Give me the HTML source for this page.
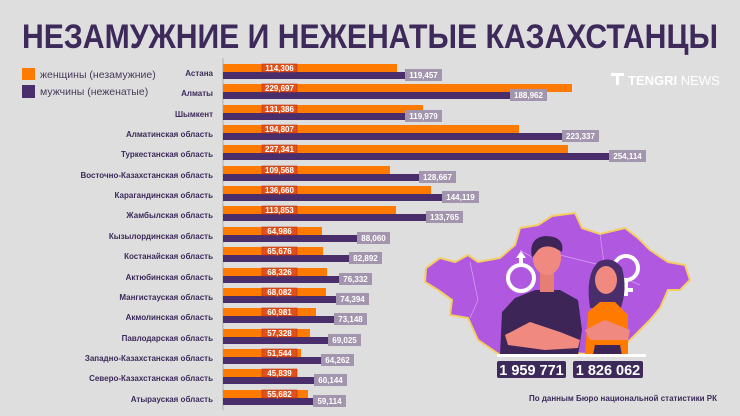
<!DOCTYPE html>
<html><head><meta charset="utf-8"><style>
html,body{margin:0;padding:0;background:#dedede;}
svg{display:block;font-family:"Liberation Sans",sans-serif;}
.l{font-size:8px;font-weight:bold;fill:#3d2a5a;text-anchor:end}
.o{fill:#ff7a00}
.p{fill:#4a2d6b}
.ob{fill:#e0521a;stroke:#c03010;stroke-width:.6}
.pb{fill:#a295ad}
.v{font-size:8px;font-weight:bold;fill:#fff;text-anchor:middle}
</style></head><body>
<svg width="740" height="416" viewBox="0 0 740 416">
<rect width="740" height="416" fill="#dedede"/>
<text x="22" y="48" font-size="34" font-weight="bold" fill="#3d2a5a" textLength="696" lengthAdjust="spacingAndGlyphs">НЕЗАМУЖНИЕ И НЕЖЕНАТЫЕ КАЗАХСТАНЦЫ</text>
<rect x="22" y="68" width="13" height="12" fill="#ff7a00"/>
<rect x="22" y="85" width="13" height="13" fill="#4a2d6b"/>
<text x="40" y="78" font-size="10.5" fill="#4a3a5a">женщины (незамужние)</text>
<text x="40" y="95" font-size="10.5" fill="#4a3a5a">мужчины (неженатые)</text>
<g fill="#fff"><rect x="611" y="73" width="13" height="3"/><rect x="616" y="73" width="3" height="12"/></g>
<text x="628" y="85" font-size="13" fill="#fff"><tspan font-weight="bold">TENGRI</tspan> NEWS</text>
<line x1="223" y1="58" x2="223" y2="410" stroke="#bdbdbd" stroke-width="1.5"/>

<g transform="translate(0,73)"><text class="l" x="213" y="3">Астана</text><rect class="o" x="223" y="-9" width="174" height="8"/><rect class="p" x="223" y="-1" width="182" height="7"/><rect class="ob" x="262" y="-9" width="35" height="8"/><text class="v" x="279.5" y="-2">114,306</text><rect class="pb" x="405" y="-4" width="37" height="12"/><text class="v" x="423.5" y="5">119,457</text></g>
<g transform="translate(0,93)"><text class="l" x="213" y="3">Алматы</text><rect class="o" x="223" y="-9" width="349" height="8"/><rect class="p" x="223" y="-1" width="287" height="7"/><rect class="ob" x="262" y="-9" width="35" height="8"/><text class="v" x="279.5" y="-2">229,697</text><rect class="pb" x="510" y="-4" width="37" height="12"/><text class="v" x="528.5" y="5">188,962</text></g>
<g transform="translate(0,114)"><text class="l" x="213" y="3">Шымкент</text><rect class="o" x="223" y="-9" width="200" height="8"/><rect class="p" x="223" y="-1" width="182" height="7"/><rect class="ob" x="262" y="-9" width="35" height="8"/><text class="v" x="279.5" y="-2">131,386</text><rect class="pb" x="405" y="-4" width="37" height="12"/><text class="v" x="423.5" y="5">119,979</text></g>
<g transform="translate(0,134)"><text class="l" x="213" y="3">Алматинская область</text><rect class="o" x="223" y="-9" width="296" height="8"/><rect class="p" x="223" y="-1" width="339" height="7"/><rect class="ob" x="262" y="-9" width="35" height="8"/><text class="v" x="279.5" y="-2">194,807</text><rect class="pb" x="562" y="-4" width="37" height="12"/><text class="v" x="580.5" y="5">223,337</text></g>
<g transform="translate(0,154)"><text class="l" x="213" y="3">Туркестанская область</text><rect class="o" x="223" y="-9" width="345" height="8"/><rect class="p" x="223" y="-1" width="386" height="7"/><rect class="ob" x="262" y="-9" width="35" height="8"/><text class="v" x="279.5" y="-2">227,341</text><rect class="pb" x="609" y="-4" width="37" height="12"/><text class="v" x="627.5" y="5">254,114</text></g>
<g transform="translate(0,175)"><text class="l" x="213" y="3">Восточно-Казахстанская область</text><rect class="o" x="223" y="-9" width="167" height="8"/><rect class="p" x="223" y="-1" width="196" height="7"/><rect class="ob" x="262" y="-9" width="35" height="8"/><text class="v" x="279.5" y="-2">109,568</text><rect class="pb" x="419" y="-4" width="37" height="12"/><text class="v" x="437.5" y="5">128,667</text></g>
<g transform="translate(0,195)"><text class="l" x="213" y="3">Карагандинская область</text><rect class="o" x="223" y="-9" width="208" height="8"/><rect class="p" x="223" y="-1" width="219" height="7"/><rect class="ob" x="262" y="-9" width="35" height="8"/><text class="v" x="279.5" y="-2">136,660</text><rect class="pb" x="442" y="-4" width="37" height="12"/><text class="v" x="460.5" y="5">144,119</text></g>
<g transform="translate(0,215)"><text class="l" x="213" y="3">Жамбылская область</text><rect class="o" x="223" y="-9" width="173" height="8"/><rect class="p" x="223" y="-1" width="203" height="7"/><rect class="ob" x="262" y="-9" width="35" height="8"/><text class="v" x="279.5" y="-2">113,853</text><rect class="pb" x="426" y="-4" width="37" height="12"/><text class="v" x="444.5" y="5">133,765</text></g>
<g transform="translate(0,236)"><text class="l" x="213" y="3">Кызылординская область</text><rect class="o" x="223" y="-9" width="99" height="8"/><rect class="p" x="223" y="-1" width="134" height="7"/><rect class="ob" x="262" y="-9" width="35" height="8"/><text class="v" x="279.5" y="-2">64,986</text><rect class="pb" x="357" y="-4" width="33" height="12"/><text class="v" x="373.5" y="5">88,060</text></g>
<g transform="translate(0,256)"><text class="l" x="213" y="3">Костанайская область</text><rect class="o" x="223" y="-9" width="100" height="8"/><rect class="p" x="223" y="-1" width="126" height="7"/><rect class="ob" x="262" y="-9" width="35" height="8"/><text class="v" x="279.5" y="-2">65,676</text><rect class="pb" x="349" y="-4" width="33" height="12"/><text class="v" x="365.5" y="5">82,892</text></g>
<g transform="translate(0,277)"><text class="l" x="213" y="3">Актюбинская область</text><rect class="o" x="223" y="-9" width="104" height="8"/><rect class="p" x="223" y="-1" width="116" height="7"/><rect class="ob" x="262" y="-9" width="35" height="8"/><text class="v" x="279.5" y="-2">68,326</text><rect class="pb" x="339" y="-4" width="33" height="12"/><text class="v" x="355.5" y="5">76,332</text></g>
<g transform="translate(0,297)"><text class="l" x="213" y="3">Мангистауская область</text><rect class="o" x="223" y="-9" width="103" height="8"/><rect class="p" x="223" y="-1" width="113" height="7"/><rect class="ob" x="262" y="-9" width="35" height="8"/><text class="v" x="279.5" y="-2">68,082</text><rect class="pb" x="336" y="-4" width="33" height="12"/><text class="v" x="352.5" y="5">74,394</text></g>
<g transform="translate(0,317)"><text class="l" x="213" y="3">Акмолинская область</text><rect class="o" x="223" y="-9" width="93" height="8"/><rect class="p" x="223" y="-1" width="111" height="7"/><rect class="ob" x="262" y="-9" width="35" height="8"/><text class="v" x="279.5" y="-2">60,981</text><rect class="pb" x="334" y="-4" width="33" height="12"/><text class="v" x="350.5" y="5">73,148</text></g>
<g transform="translate(0,338)"><text class="l" x="213" y="3">Павлодарская область</text><rect class="o" x="223" y="-9" width="87" height="8"/><rect class="p" x="223" y="-1" width="105" height="7"/><rect class="ob" x="262" y="-9" width="35" height="8"/><text class="v" x="279.5" y="-2">57,328</text><rect class="pb" x="328" y="-4" width="33" height="12"/><text class="v" x="344.5" y="5">69,025</text></g>
<g transform="translate(0,358)"><text class="l" x="213" y="3">Западно-Казахстанская область</text><rect class="o" x="223" y="-9" width="78" height="8"/><rect class="p" x="223" y="-1" width="98" height="7"/><rect class="ob" x="262" y="-9" width="35" height="8"/><text class="v" x="279.5" y="-2">51,544</text><rect class="pb" x="321" y="-4" width="33" height="12"/><text class="v" x="337.5" y="5">64,262</text></g>
<g transform="translate(0,378)"><text class="l" x="213" y="3">Северо-Казахстанская область</text><rect class="o" x="223" y="-9" width="70" height="8"/><rect class="p" x="223" y="-1" width="91" height="7"/><rect class="ob" x="262" y="-9" width="35" height="8"/><text class="v" x="279.5" y="-2">45,839</text><rect class="pb" x="314" y="-4" width="33" height="12"/><text class="v" x="330.5" y="5">60,144</text></g>
<g transform="translate(0,399)"><text class="l" x="213" y="3">Атырауская область</text><rect class="o" x="223" y="-9" width="85" height="8"/><rect class="p" x="223" y="-1" width="90" height="7"/><rect class="ob" x="262" y="-9" width="35" height="8"/><text class="v" x="279.5" y="-2">55,682</text><rect class="pb" x="313" y="-4" width="33" height="12"/><text class="v" x="329.5" y="5">59,114</text></g>

<!-- map -->
<path d="M426,268 L440,258 L455,262 L468,255 L478,262 L500,258 L515,245 L520,228 L538,225 L552,216 L575,213 L582,228 L600,234 L625,228 L638,238 L650,250 L668,262 L685,265 L690,280 L680,290 L668,290 L660,308 L650,320 L640,330 L625,345 L600,355 L560,352 L520,350 L500,355 L478,340 L468,318 L450,315 L452,300 L438,290 L425,282 Z" fill="#b158e0" stroke="#f3cf63" stroke-width="2"/>
<g stroke="#d6a6f0" stroke-width=".7" fill="none"><path d="M470,262 L478,300 L470,318"/><path d="M520,250 L540,262 L560,255 L600,265"/><path d="M600,234 L605,270 L640,285"/></g>
<!-- gender symbols -->
<g stroke="#fff" stroke-width="4" fill="none"><circle cx="521" cy="278" r="13"/><line x1="521" y1="265" x2="521" y2="255"/><circle cx="626" cy="268" r="12"/><line x1="626" y1="280" x2="626" y2="296"/><line x1="619" y1="290" x2="633" y2="290"/></g>
<path d="M516,258 L521,251 L526,258 Z" fill="#fff"/>
<!-- man -->
<path d="M500,355 L502,312 L515,298 L535,290 L560,290 L578,300 L582,330 L578,355 Z" fill="#3d2657"/>
<path d="M505,335 L530,322 L560,332 L580,340 L578,348 L545,350 L508,345 Z" fill="#f08a80"/>
<rect x="540" y="272" width="14" height="20" fill="#e77e74"/>
<ellipse cx="547" cy="258" rx="14" ry="17" fill="#f08a80"/>
<path d="M532,258 Q528,238 545,236 Q565,236 562,252 L555,248 Q545,244 538,250 Z" fill="#3d2657"/>
<!-- woman -->
<path d="M590,308 Q585,275 598,262 Q612,255 622,268 Q628,290 620,310 Z" fill="#4a2d6b"/>
<ellipse cx="606" cy="280" rx="11" ry="14" fill="#f08a80"/>
<path d="M585,355 L588,312 L600,302 L615,302 L628,315 L628,355 Z" fill="#ff7a00"/>
<path d="M585,330 L605,320 L630,330 L628,340 L590,340 Z" fill="#f08a80"/>
<path d="M593,355 L595,345 L620,345 L622,355 Z" fill="#3d2657"/>
<rect x="497" y="354" width="149" height="3" fill="#fff"/>
<rect x="497" y="361" width="69" height="17" rx="2" fill="#3d2a5a"/>
<rect x="573" y="361" width="70" height="17" rx="2" fill="#3d2a5a"/>
<text x="531.5" y="375" font-size="14.5" font-weight="bold" fill="#fff" text-anchor="middle">1 959 771</text>
<text x="608" y="375" font-size="14.5" font-weight="bold" fill="#fff" text-anchor="middle">1 826 062</text>
<text x="717" y="401" font-size="8" font-weight="bold" fill="#3d2a5a" text-anchor="end">По данным Бюро национальной статистики РК</text>
</svg>
</body></html>
